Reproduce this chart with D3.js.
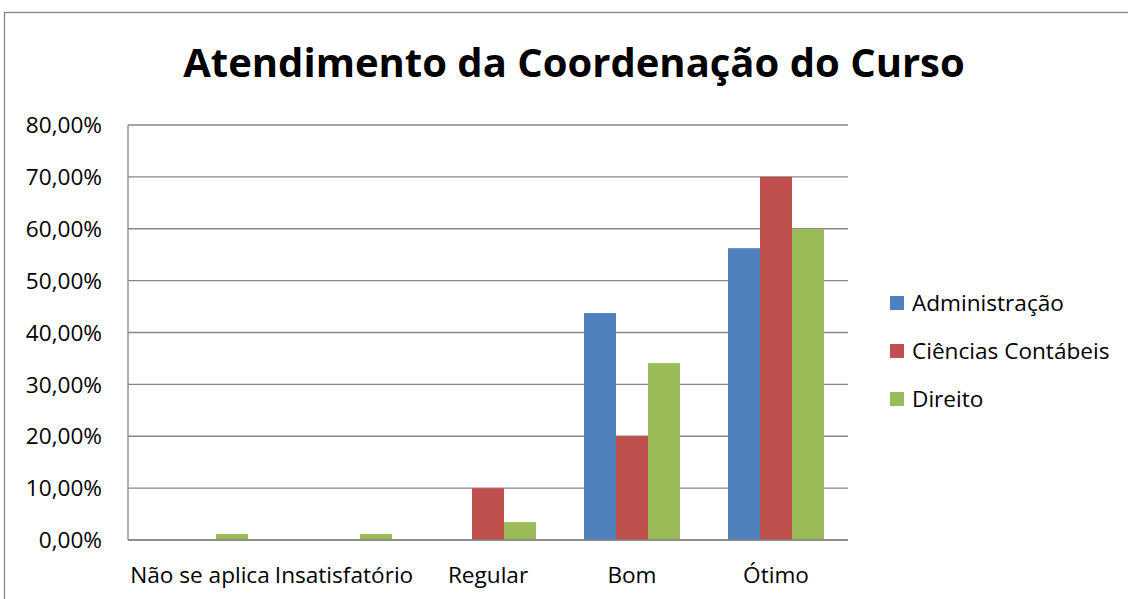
<!DOCTYPE html>
<html><head><meta charset="utf-8">
<script src="https://cdn.jsdelivr.net/npm/d3@7"></script>
<style>html,body{margin:0;padding:0;background:#fff;overflow:hidden}</style>
</head><body>
<svg id="chart" width="1128" height="599"></svg>
<script>
const title = "Atendimento da Coordenação do Curso";
const categories = ["Não se aplica", "Insatisfatório", "Regular", "Bom", "Ótimo"];
const seriesNames = ["Administração", "Ciências Contábeis", "Direito"];
const administracao = [0, 0, 0, 0.4375, 0.5625];
const cienciasContabeis = [0, 0, 0.10, 0.20, 0.70];
const direito = [0.0116, 0.0116, 0.0345, 0.341, 0.60];
const colors = ["#4F81BD", "#C0504D", "#9BBB59"];
const yTicks = [0, 0.1, 0.2, 0.3, 0.4, 0.5, 0.6, 0.7, 0.8];

const seriesValues = [administracao, cienciasContabeis, direito];
const data = categories.map((c, i) => ({cat: c, vals: seriesNames.map((s, j) => ({s, v: seriesValues[j][i], c: colors[j]}))}));

const svg = d3.select("#chart");
const font = "'Open Sans', sans-serif";
const fs = 22.6;
svg.append("rect").attr("x", 0).attr("y", 0).attr("width", 1128).attr("height", 599).attr("fill", "#fff");
// outer chart frame (right/bottom beyond view)
svg.append("rect").attr("x", 4.5).attr("y", 12.5).attr("width", 1140).attr("height", 600)
  .attr("fill", "none").attr("stroke", "#868686").attr("stroke-width", 1.3);

const x = d3.scaleBand().domain(categories).range([128, 848]).paddingInner(0).paddingOuter(0);
const xi = d3.scaleBand().domain(seriesNames).range([0, x.bandwidth()]).paddingInner(0).paddingOuter(0.75);
const y = d3.scaleLinear().domain([0, 0.8]).range([540, 125]);

// gridlines
svg.append("g").selectAll("line").data(yTicks).join("line")
  .attr("x1", 128).attr("x2", 848)
  .attr("y1", d => y(d)).attr("y2", d => y(d))
  .attr("stroke", "#868686").attr("stroke-width", 1.3);

// bars
const g = svg.append("g").selectAll("g").data(data).join("g")
  .attr("transform", d => `translate(${x(d.cat)},0)`);
g.selectAll("rect").data(d => d.vals).join("rect")
  .attr("x", d => xi(d.s)).attr("width", xi.bandwidth())
  .attr("y", d => y(d.v)).attr("height", d => y(0) - y(d.v))
  .attr("fill", d => d.c);

// axes lines
svg.append("line").attr("x1", 128).attr("x2", 128).attr("y1", 125).attr("y2", 540)
  .attr("stroke", "#868686").attr("stroke-width", 1.3);
svg.append("line").attr("x1", 128).attr("x2", 848).attr("y1", 540).attr("y2", 540)
  .attr("stroke", "#868686").attr("stroke-width", 1.3);

// y tick labels
const fmt = d => (d * 100).toFixed(2).replace(".", ",") + "%";
svg.append("g").selectAll("text").data(yTicks).join("text")
  .attr("x", 102).attr("y", d => y(d)).attr("dy", "0.36em")
  .attr("text-anchor", "end").attr("font-family", font).attr("font-size", fs)
  .attr("fill", "#000").text(fmt);

// x labels
svg.append("g").selectAll("text").data(categories).join("text")
  .attr("x", d => x(d) + x.bandwidth() / 2).attr("y", 583)
  .attr("text-anchor", "middle").attr("font-family", font).attr("font-size", fs)
  .attr("fill", "#000").text(d => d);

// title
svg.append("text").attr("x", 574).attr("y", 77).attr("text-anchor", "middle")
  .attr("font-family", font).attr("font-weight", "bold").attr("font-size", 40)
  .attr("fill", "#000").text(title);

// legend
const lg = svg.append("g").selectAll("g").data(seriesNames).join("g")
  .attr("transform", (d, i) => `translate(890,${303 + i * 48})`);
lg.append("rect").attr("x", 0).attr("y", -7).attr("width", 14).attr("height", 14)
  .attr("fill", (d, i) => colors[i]);
lg.append("text").attr("x", 22).attr("y", 0).attr("dy", "0.36em")
  .attr("font-family", font).attr("font-size", fs).attr("fill", "#000").text(d => d);
</script>
</body></html>
